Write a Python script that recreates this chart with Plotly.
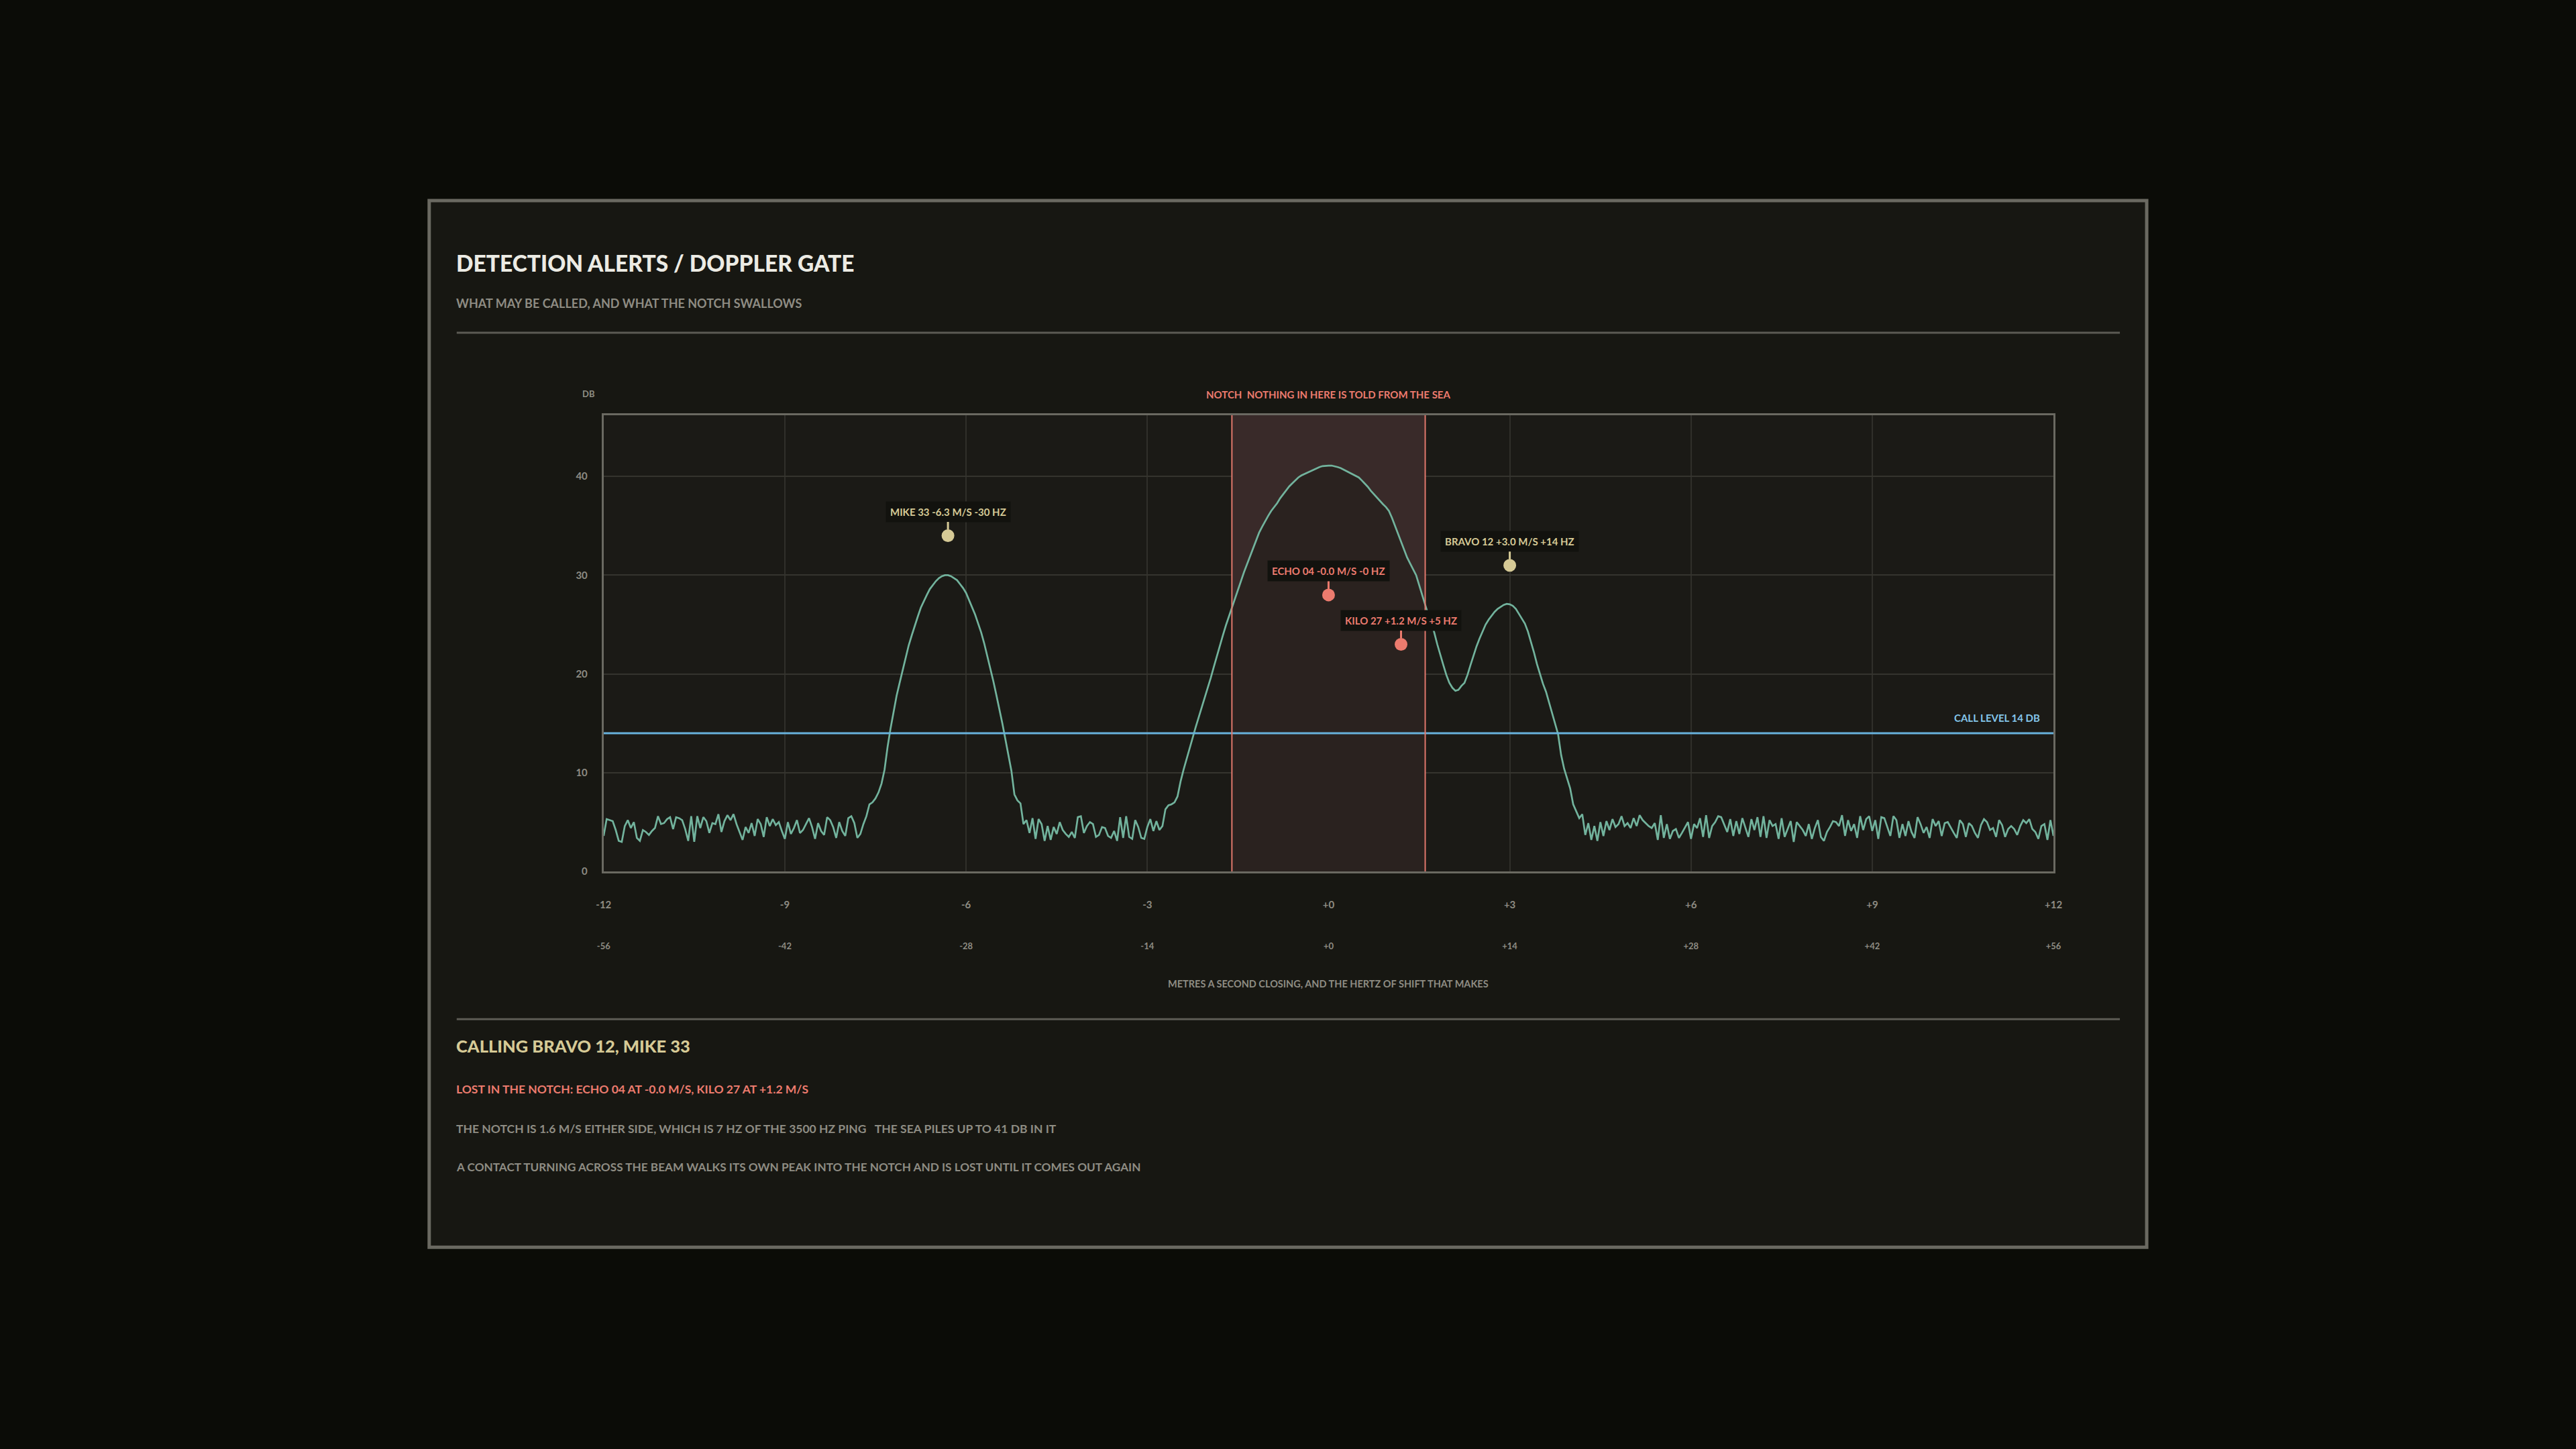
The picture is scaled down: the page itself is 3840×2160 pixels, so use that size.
import plotly.graph_objects as go

W, H = 3840, 2160
OFF = 8  # the page keeps its default body margin, so pull everything back by it

# ---- data ----
# received level (dB) every 0.05 m/s from -12 to +12
db_values = [
    3.6, 5.3, 5.2, 5.1, 4.2, 3.1, 3.0, 4.6, 5.2, 4.4, 5.0, 3.4, 3.1, 4.2, 4.0, 3.7, 4.1, 4.4, 5.6, 4.8,
    4.9, 5.3, 5.5, 4.3, 5.5, 5.4, 5.2, 4.3, 3.1, 5.6, 3.0, 5.6, 4.4, 5.5, 5.1, 3.9, 4.9, 4.8, 5.8, 4.0,
    5.1, 5.7, 5.2, 5.8, 4.8, 4.0, 3.2, 4.5, 3.9, 4.9, 3.6, 5.3, 4.8, 3.5, 5.5, 4.6, 5.3, 4.7, 5.0, 4.1,
    3.3, 5.0, 3.8, 4.4, 5.2, 3.9, 4.2, 4.8, 5.4, 4.5, 3.3, 4.9, 4.1, 3.7, 5.5, 5.2, 4.5, 3.4, 5.0, 4.1,
    3.6, 5.4, 5.6, 4.9, 3.4, 3.8, 4.8, 5.6, 6.8, 7.0, 7.4, 8.0, 8.9, 10.3, 12.6, 14.5, 16.3, 17.8, 19.1, 20.4,
    21.7, 22.9, 23.9, 24.9, 25.8, 26.7, 27.4, 28.0, 28.6, 29.0, 29.4, 29.7, 29.9, 30.0, 30.0, 29.9, 29.7, 29.5, 29.1, 28.7,
    28.2, 27.5, 26.8, 26.0, 25.1, 24.2, 23.1, 21.9, 20.7, 19.3, 17.9, 16.5, 15.0, 13.4, 11.8, 10.2, 7.8, 7.2, 6.9, 4.8,
    5.2, 3.9, 5.4, 3.3, 5.3, 4.8, 3.1, 4.6, 3.2, 4.5, 3.8, 5.0, 4.2, 3.8, 3.5, 4.0, 3.4, 5.5, 5.6, 3.9,
    4.6, 5.0, 4.8, 3.5, 3.7, 4.5, 4.4, 3.6, 3.4, 4.1, 3.1, 5.5, 3.4, 5.6, 3.5, 3.3, 5.2, 4.5, 3.4, 3.3,
    4.5, 5.3, 4.1, 5.1, 4.2, 4.6, 6.3, 6.7, 6.8, 7.0, 7.6, 9.1, 10.3, 11.4, 12.5, 13.6, 14.6, 15.6, 16.6, 17.5,
    18.6, 19.6, 20.7, 21.8, 22.9, 23.9, 24.9, 25.8, 26.7, 27.6, 28.6, 29.5, 30.3, 31.1, 31.9, 32.7, 33.5, 34.3, 34.9, 35.5,
    36.0, 36.5, 36.9, 37.3, 37.8, 38.2, 38.6, 39.0, 39.3, 39.6, 39.9, 40.1, 40.25, 40.4, 40.55, 40.7, 40.85, 40.95, 41.05, 41.1,
    41.1, 41.1, 41.05, 40.95, 40.85, 40.7, 40.55, 40.4, 40.25, 40.1, 39.9, 39.6, 39.3, 38.95, 38.55, 38.2, 37.85, 37.5, 37.2, 36.9,
    36.5, 35.8, 35.0, 34.2, 33.4, 32.6, 31.8, 31.2, 30.6, 30.0, 29.0, 28.0, 27.0, 26.0, 25.2, 24.2, 23.0, 21.9, 20.9, 19.9,
    19.1, 18.6, 18.3, 18.4, 18.8, 19.1, 19.9, 20.9, 21.9, 22.8, 23.6, 24.3, 25.0, 25.5, 25.9, 26.3, 26.6, 26.8, 27.0, 27.1,
    27.05, 26.9, 26.6, 26.1, 25.6, 25.1, 24.3, 23.3, 22.2, 21.0, 20.0, 19.0, 18.2, 17.1, 16.0, 15.0, 13.9, 11.8, 10.4, 9.4,
    8.4, 6.8, 6.1, 5.4, 5.8, 3.7, 4.9, 3.2, 4.6, 3.1, 5.0, 3.6, 5.1, 4.2, 5.3, 4.5, 4.8, 5.6, 4.6, 4.9,
    4.4, 5.4, 4.6, 5.7, 5.2, 4.9, 4.6, 4.4, 4.9, 3.2, 5.7, 3.4, 4.8, 3.3, 4.1, 4.3, 3.4, 3.9, 4.5, 5.0,
    3.3, 4.8, 4.4, 5.4, 3.5, 5.7, 3.4, 4.6, 5.0, 5.6, 5.5, 4.8, 4.0, 5.3, 3.6, 5.1, 3.8, 5.4, 4.5, 3.5,
    5.3, 4.2, 5.5, 3.5, 5.6, 3.4, 5.2, 4.6, 4.8, 3.3, 5.4, 3.5, 4.3, 5.1, 3.0, 5.0, 4.6, 4.2, 3.6, 4.8,
    3.3, 4.4, 5.2, 3.5, 3.1, 4.0, 4.5, 5.1, 5.0, 4.6, 5.7, 3.6, 5.2, 4.1, 4.8, 3.4, 5.6, 4.2, 5.3, 5.6,
    4.1, 5.2, 3.3, 5.5, 5.4, 4.5, 3.6, 5.6, 5.2, 3.4, 4.8, 3.6, 5.1, 4.0, 3.4, 5.5, 4.8, 3.9, 4.5, 3.4,
    5.3, 4.6, 5.1, 3.6, 4.9, 5.0, 4.4, 3.9, 3.4, 5.2, 4.8, 3.5, 4.9, 4.6, 3.9, 3.4, 4.7, 5.3, 5.0, 4.2,
    4.4, 3.5, 5.2, 4.7, 3.5, 4.3, 4.6, 4.3, 3.7, 4.6, 5.2, 4.9, 5.3, 4.3, 4.0, 3.3, 4.6, 4.8, 3.2, 5.2,
    3.6,
]
v_start, v_step = -12.0, 0.05
velocities = [round(v_start + v_step * i, 2) for i in range(len(db_values))]

target_names = ["MIKE 33", "ECHO 04", "KILO 27", "BRAVO 12"]
target_speed = [-6.3, -0.0, 1.2, 3.0]
target_hz = [-30.0, -0.0, 5.0, 14.0]
target_db = [34, 28, 23, 31]

notch_half = 1.6
call_level = 14
ping_hz = 3500
clutter_peak = 41
db_top = 46.2

x_ticks = [-12, -9, -6, -3, 0, 3, 6, 9, 12]
x_labels = ["-12", "-9", "-6", "-3", "+0", "+3", "+6", "+9", "+12"]
hz_ticks = [-56, -42, -28, -14, 0, 14, 28, 42, 56]
hz_labels = ["-56", "-42", "-28", "-14", "+0", "+14", "+28", "+42", "+56"]
y_ticks = [0, 10, 20, 30, 40]

# ---- colours ----
BG = "#0b0c07"
CARD = "#171712"
PLOT = "#1b1a16"
FRAME = "#6a6961"
GRID = "#302f2a"
CURVE = "#72b39d"
SALMON = "#ec7b6e"
TAN = "#d6ca96"
BLUE = "#68b2dc"
MUTED = "#8e8c83"
FONT = "Lato, Inter, Roboto, sans-serif"
HEAVY = "'Lato Black', Lato, Inter, sans-serif"


def px(x):
    # slight horizontal stretch: the photographed page comes out a touch narrow
    x = 632.7 + (x - 640) * 1.0064
    return (x - OFF) / W


def py(y):
    y = 300 + (y - 300) * 1.0039
    return 1 - (y - OFF) / H


fig = go.Figure()

# notch band (as a filled trace so it sits over the grid)
fig.add_trace(go.Scatter(
    x=[-notch_half, -notch_half, notch_half, notch_half],
    y=[0, db_top, db_top, 0], mode="lines",
    fill="toself", fillcolor="#392a29", line=dict(width=0),
    hoverinfo="skip", showlegend=False,
))

# the part of the spectrum inside the notch is shaded darker underneath
notch_v = [v for v in velocities if abs(v) <= notch_half]
notch_db = [d for v, d in zip(velocities, db_values) if abs(v) <= notch_half]
fig.add_trace(go.Scatter(
    x=notch_v, y=notch_db, mode="lines", line=dict(width=0),
    fill="tozeroy", fillcolor="rgba(27,26,22,0.5)",
    hoverinfo="skip", showlegend=False,
))

# spectrum
fig.add_trace(go.Scatter(
    x=velocities, y=db_values, mode="lines",
    line=dict(color=CURVE, width=2.7),
    hoverinfo="skip", showlegend=False,
))

# call level
fig.add_trace(go.Scatter(
    x=[x_ticks[0], x_ticks[-1]], y=[call_level, call_level], mode="lines",
    line=dict(color=BLUE, width=3), hoverinfo="skip", showlegend=False,
))

in_notch = [abs(s) <= notch_half for s in target_speed]
colors = [SALMON if n else TAN for n in in_notch]

fig.add_trace(go.Scatter(
    x=target_speed, y=target_db, mode="markers",
    marker=dict(size=19, color=colors, line=dict(width=0)),
    hoverinfo="skip", showlegend=False,
))

# dummy trace so the hertz axis is drawn
fig.add_trace(go.Scatter(
    x=[hz_ticks[0], hz_ticks[-1]], y=[None, None], xaxis="x2", yaxis="y",
    mode="lines", hoverinfo="skip", showlegend=False,
))

# ---- shapes ----
fig.add_shape(type="rect", xref="paper", yref="paper",
              x0=px(640), x1=px(3200), y0=py(1860), y1=py(300),
              fillcolor=CARD, line=dict(color=FRAME, width=5), layer="below")
fig.add_shape(type="rect", xref="x domain", yref="y domain", x0=0, x1=1, y0=0, y1=1,
              fillcolor=PLOT, line=dict(width=0), layer="below")
for yy in (497, 1520):
    fig.add_shape(type="line", xref="paper", yref="paper",
                  x0=px(681), x1=px(3160), y0=py(yy), y1=py(yy),
                  line=dict(color="#5c5b54", width=3))
for xx in (-notch_half, notch_half):
    fig.add_shape(type="line", xref="x", yref="y domain", x0=xx, x1=xx, y0=0, y1=1,
                  line=dict(color="#e0786c", width=2), layer="above")

# ---- annotations ----
for name, s, hz, lvl, c in zip(target_names, target_speed, target_hz, target_db, colors):
    fig.add_annotation(
        x=s, y=lvl, xref="x", yref="y",
        text=f"{name} {s:+.1f} M/S {hz:+.0f} HZ",
        font=dict(family=FONT, size=15, color=c, weight=700),
        bgcolor="#12120e", borderpad=6,
        showarrow=True, arrowhead=0, arrowwidth=3, arrowcolor=c,
        ax=0, ay=-36, standoff=9,
    )

fig.add_annotation(x=0, xref="x", y=py(589), yref="paper",
                   text="NOTCH\u00a0\u00a0NOTHING IN HERE IS TOLD FROM THE SEA",
                   font=dict(family=FONT, size=15, color=SALMON, weight=700),
                   showarrow=False, yanchor="middle")
fig.add_annotation(x=x_ticks[-1], xref="x", y=call_level, yref="y",
                   text=f"CALL LEVEL {call_level} DB", xanchor="right", xshift=-18,
                   yanchor="middle", yshift=23,
                   font=dict(family=FONT, size=15, color="#84c6ea", weight=700),
                   showarrow=False)
fig.add_annotation(x=px(866), y=py(588), xref="paper", yref="paper", text="DB",
                   font=dict(family=FONT, size=13, color=MUTED, weight=700),
                   showarrow=False, yanchor="middle")
fig.add_annotation(x=px(1980), y=py(1467), xref="paper", yref="paper",
                   text="METRES A SECOND CLOSING, AND THE HERTZ OF SHIFT THAT MAKES",
                   font=dict(family=FONT, size=14.5, color=MUTED, weight=700),
                   showarrow=False, yanchor="middle")

called = sorted(n for n, f in zip(target_names, in_notch) if not f)
lost = [f"{n} AT {s:+.1f} M/S" for n, s, f in zip(target_names, target_speed, in_notch) if f]
notch_hz = notch_half * 2 * ping_hz / 1500

header = [
    ("DETECTION ALERTS / DOPPLER GATE", 393, 33.5, "#ecebe4", HEAVY),
    ("WHAT MAY BE CALLED, AND WHAT THE NOTCH SWALLOWS", 453, 18, MUTED, FONT),
    ("CALLING " + ", ".join(called), 1560, 25.5, TAN, HEAVY),
    ("LOST IN THE NOTCH: " + ", ".join(lost), 1624, 17.5, SALMON, FONT),
    (f"THE NOTCH IS {notch_half} M/S EITHER SIDE, WHICH IS {notch_hz:.0f} HZ OF THE {ping_hz} HZ PING"
     f"\u00a0\u00a0\u00a0THE SEA PILES UP TO {clutter_peak} DB IN IT", 1683, 17.5, MUTED, FONT),
    ("A CONTACT TURNING ACROSS THE BEAM WALKS ITS OWN PEAK INTO THE NOTCH AND IS LOST UNTIL IT COMES OUT AGAIN",
     1740, 17.2, MUTED, FONT),
]
for text, yy, size, color, family in header:
    fig.add_annotation(x=px(678), y=py(yy), xref="paper", yref="paper", text=text,
                       xanchor="left", yanchor="middle", showarrow=False,
                       font=dict(family=family, size=size, color=color,
                                 weight=900 if family == HEAVY else 700))

dom_x = [px(900), px(3061)]
dom_y = [py(1300), py(620)]

fig.update_layout(
    width=W, height=H,
    margin=dict(l=0, r=0, t=0, b=0),
    paper_bgcolor=BG, plot_bgcolor="rgba(0,0,0,0)",
    showlegend=False,
    font=dict(family=FONT, color=MUTED),
    xaxis=dict(domain=dom_x, range=[x_ticks[0], x_ticks[-1]],
               tickvals=x_ticks, ticktext=x_labels,
               showgrid=True, gridcolor=GRID, gridwidth=2, zeroline=False,
               showline=True, linecolor=FRAME, linewidth=3, mirror=True,
               ticks="outside", ticklen=34, tickcolor="rgba(0,0,0,0)",
               tickfont=dict(family=FONT, size=15, color=MUTED, weight=700)),
    xaxis2=dict(domain=dom_x, overlaying="x", anchor="free", position=py(1402),
                range=[hz_ticks[0], hz_ticks[-1]],
                tickvals=hz_ticks, ticktext=hz_labels,
                showgrid=False, zeroline=False, showline=False, ticks="",
                tickfont=dict(family=FONT, size=13, color=MUTED, weight=700)),
    yaxis=dict(domain=dom_y, range=[0, db_top],
               tickvals=y_ticks,
               showgrid=True, gridcolor="#35342e", gridwidth=2, zeroline=False,
               showline=True, linecolor=FRAME, linewidth=3, mirror=True,
               ticks="outside", ticklen=18, tickcolor="rgba(0,0,0,0)",
               tickfont=dict(family=FONT, size=15, color=MUTED, weight=700)),
)

fig.write_html(
    "out.html",
    config={"displayModeBar": False},
    post_script=("document.documentElement.style.background='" + BG + "';"
                 "document.body.style.background='" + BG + "';"),
)
